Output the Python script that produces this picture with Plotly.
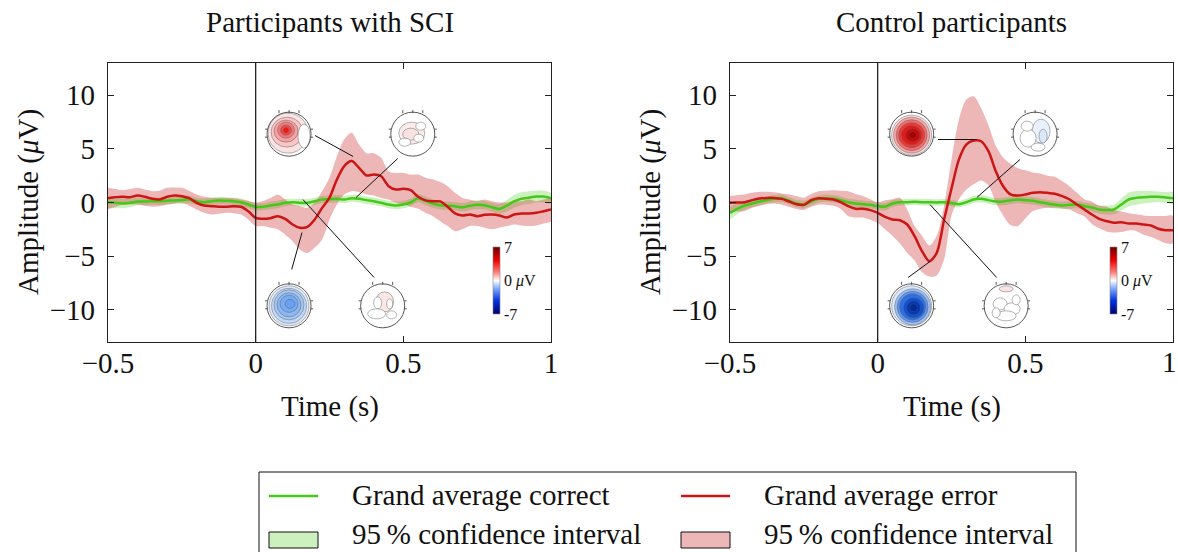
import plotly.graph_objects as go

W, H = 1178, 552

# ---------------- data ----------------
time_s = [round(-0.5 + 0.025 * i, 3) for i in range(61)]

sci_error = [0.40, 0.50, 0.53, 0.50, 0.65, 0.53, 0.34, 0.28, 0.53, 0.65,
             0.59, 0.40, -0.03, -0.28, -0.34, -0.40, -0.40, -0.34, -0.40, -0.81,
             -1.43, -1.52, -1.46, -1.27, -1.52, -2.05, -2.36, -2.27, -1.58, -0.50,
             0.45, 2.14, 3.39, 3.86, 3.23, 2.52, 2.61, 2.45, 1.52, 1.21,
             1.27, 1.15, 0.53, 0.20, 0.12, 0.10, -0.40, -1.02, -1.21, -1.12,
             -1.27, -1.15, -1.12, -1.21, -1.40, -1.12, -1.02, -1.02, -0.96, -0.81,
             -0.65]
sci_error_hi = [1.37, 1.25, 1.15, 1.25, 1.37, 1.20, 1.06, 1.10, 1.37, 1.40,
                1.37, 1.10, 0.75, 0.55, 0.43, 0.43, 0.43, 0.40, 0.28, 0.15,
                0.00, 0.15, 0.43, 0.75, 0.28, -0.19, -0.34, -0.50, 0.00, 1.06,
                2.30, 4.30, 5.90, 6.50, 5.40, 4.60, 4.60, 4.16, 2.90, 2.76,
                2.76, 2.60, 2.60, 2.30, 2.14, 1.90, 1.52, 0.90, 0.43, 0.28,
                0.12, 0.28, 0.12, 0.00, 0.00, 0.12, 0.12, 0.28, 0.12, 0.28,
                0.43]
sci_error_lo = [-0.65, -0.40, -0.19, -0.19, -0.19, -0.30, -0.40, -0.35, -0.19, -0.10,
                -0.03, -0.30, -0.65, -0.95, -1.12, -1.05, -0.96, -1.00, -1.12, -1.58,
                -2.20, -2.20, -2.36, -2.50, -3.00, -3.60, -4.40, -4.70, -4.20, -3.45,
                -1.58, -0.19, 0.75, 1.06, 0.96, 0.75, 0.65, 0.43, 0.28, -0.03,
                -0.19, -0.40, -0.59, -0.96, -1.27, -1.74, -2.20, -2.67, -2.50, -2.20,
                -2.20, -2.36, -2.50, -2.36, -2.20, -2.05, -2.14, -2.20, -2.14, -1.95,
                -1.74]
sci_correct = [0.03, -0.03, -0.09, -0.03, 0.09, 0.09, 0.12, 0.12, 0.16, 0.19,
               0.22, 0.28, 0.12, 0.03, 0.12, 0.19, 0.16, 0.12, 0.03, -0.19,
               -0.40, -0.40, -0.28, -0.19, -0.03, 0.03, -0.03, -0.03, 0.12, 0.28,
               0.30, 0.34, 0.28, 0.40, 0.34, 0.22, 0.12, -0.03, -0.19, -0.28,
               -0.19, 0.00, 0.40, 0.15, -0.10, -0.25, -0.30, -0.35, -0.45, -0.30,
               -0.20, -0.25, -0.45, -0.60, -0.30, 0.10, 0.35, 0.45, 0.55, 0.55,
               0.40]
sci_correct_ci = [0.55, 0.50, 0.45, 0.40, 0.35, 0.35, 0.33, 0.35, 0.35, 0.32,
                  0.35, 0.35, 0.33, 0.35, 0.35, 0.35, 0.32, 0.35, 0.35, 0.35,
                  0.35, 0.33, 0.35, 0.35, 0.35, 0.32, 0.35, 0.35, 0.35, 0.33,
                  0.35, 0.35, 0.35, 0.32, 0.35, 0.35, 0.35, 0.33, 0.35, 0.35,
                  0.35, 0.35, 0.38, 0.40, 0.40, 0.40, 0.38, 0.40, 0.40, 0.40,
                  0.40, 0.40, 0.42, 0.45, 0.55, 0.60, 0.60, 0.60, 0.55, 0.55,
                  0.50]

ctl_error = [-0.03, 0.00, 0.03, 0.22, 0.37, 0.43, 0.43, 0.34, 0.09, -0.16,
             -0.22, 0.22, 0.40, 0.34, 0.28, 0.03, -0.34, -0.59, -0.59, -0.71,
             -0.96, -1.34, -1.58, -1.65, -2.05, -3.14, -4.53, -5.47, -4.69, -1.58,
             1.30, 4.00, 5.40, 5.78, 5.71, 4.78, 2.92, 1.52, 0.75, 0.65,
             0.75, 0.90, 0.96, 0.90, 0.81, 0.59, 0.28, -0.19, -0.65, -1.12,
             -1.52, -1.74, -1.89, -1.83, -1.96, -1.96, -2.05, -2.14, -2.45, -2.58,
             -2.58]
ctl_error_hi = [0.60, 0.70, 0.75, 0.90, 1.00, 1.00, 0.95, 0.85, 0.75, 0.60,
                0.45, 0.80, 1.05, 1.10, 1.15, 1.10, 1.05, 0.80, 0.60, 0.30,
                0.00, 0.20, 0.30, 0.45, -0.65, -2.20, -3.10, -4.00, -3.10, -0.30,
                4.00, 7.70, 9.60, 9.90, 8.80, 7.20, 5.30, 4.20, 3.60, 3.20,
                3.00, 2.80, 2.70, 2.50, 2.40, 2.00, 1.50, 0.90, 0.30, 0.10,
                -0.30, -0.40, -0.70, -0.85, -1.00, -1.10, -1.20, -1.25, -1.25, -1.25,
                -1.25]
ctl_error_lo = [-0.80, -0.85, -0.80, -0.50, -0.30, -0.15, -0.10, -0.20, -0.40, -0.60,
                -0.70, -0.40, -0.20, -0.20, -0.30, -0.60, -1.25, -1.40, -1.40, -1.60,
                -1.90, -2.50, -3.10, -3.80, -4.70, -5.40, -6.50, -6.90, -6.80, -5.30,
                -1.20, 0.30, 1.20, 1.70, 2.05, 1.60, 0.00, -1.20, -2.10, -2.20,
                -1.50, -0.80, -0.60, -0.50, -0.50, -0.55, -0.65, -1.00, -1.30, -2.00,
                -2.40, -2.70, -2.80, -2.75, -2.60, -2.65, -3.00, -3.20, -3.50, -3.80,
                -3.80]
ctl_correct = [-0.96, -0.59, -0.28, -0.09, 0.09, 0.22, 0.34, 0.40, 0.16, -0.09,
               -0.19, 0.09, 0.34, 0.40, 0.34, 0.22, 0.03, -0.09, -0.16, -0.22,
               -0.34, -0.40, -0.09, 0.03, 0.03, 0.06, 0.03, 0.03, 0.00, 0.03,
               -0.05, -0.16, 0.03, 0.28, 0.34, 0.22, 0.09, 0.09, 0.22, 0.28,
               0.22, 0.16, 0.03, -0.09, -0.22, -0.28, -0.22, -0.19, -0.34, -0.47,
               -0.65, -0.71, -0.65, -0.19, 0.28, 0.43, 0.50, 0.53, 0.53, 0.47,
               0.40]
ctl_correct_ci = [0.60, 0.50, 0.40, 0.35, 0.35, 0.33, 0.35, 0.35, 0.32, 0.35,
                  0.35, 0.35, 0.33, 0.35, 0.35, 0.35, 0.32, 0.35, 0.35, 0.35,
                  0.33, 0.35, 0.32, 0.30, 0.30, 0.30, 0.30, 0.30, 0.30, 0.30,
                  0.30, 0.30, 0.32, 0.33, 0.35, 0.35, 0.33, 0.35, 0.35, 0.35,
                  0.35, 0.35, 0.35, 0.35, 0.35, 0.35, 0.35, 0.35, 0.35, 0.38,
                  0.40, 0.42, 0.45, 0.55, 0.65, 0.65, 0.60, 0.55, 0.50, 0.50,
                  0.55]

panel_titles = ["Participants with SCI", "Control participants"]
x_tickvals = [-0.5, 0, 0.5, 1]
x_ticktext = ["\u22120.5", "0", "0.5", "1"]
y_tickvals = [-10, -5, 0, 5, 10]
y_ticktext = ["\u221210", "\u22125", "0", "5", "10"]
x_title = "Time (s)"
y_title = "Amplitude (<i>\u03bc</i>V)"
legend_labels = ["Grand average correct", "Grand average error",
                 "95\u2009% confidence interval", "95\u2009% confidence interval"]
cbar_ticks = [-7, 0, 7]
cbar_text = ["-7", "0 <i>\u03bc</i>V", "7"]

# ---------------- style ----------------
FONT = "Liberation Serif"
FS = 29
GREEN = "#44c81a"
RED = "#cc1515"
GREEN_FILL = "rgba(68,204,17,0.27)"
RED_FILL = "rgba(200,30,30,0.32)"
CSCALE = [[0.0, "#00006e"], [0.2, "#0033dd"], [0.38, "#7fa8ff"], [0.5, "#ffffff"],
          [0.62, "#ff8080"], [0.8, "#ee0000"], [1.0, "#6e0000"]]


def px(v):
    return v / W


def py(v):
    return 1 - v / H


panels = [
    dict(xa="x", ya="y", dom=[px(108), px(551)], err=sci_error, hi=sci_error_hi,
         lo=sci_error_lo, cor=sci_correct, ci=sci_correct_ci, cx=330, ylab=28, cbx=493),
    dict(xa="x2", ya="y2", dom=[px(730), px(1173)], err=ctl_error, hi=ctl_error_hi,
         lo=ctl_error_lo, cor=ctl_correct, ci=ctl_correct_ci, cx=951.5, ylab=650, cbx=1110),
]

fig = go.Figure()
shapes = []
annotations = []

for k, p in enumerate(panels):
    up_g = [c + h for c, h in zip(p["cor"], p["ci"])]
    lo_g = [c - h for c, h in zip(p["cor"], p["ci"])]
    fig.add_trace(go.Scatter(x=time_s + time_s[::-1], y=up_g + lo_g[::-1], fill="toself",
                             fillcolor=GREEN_FILL, line=dict(width=0, shape="spline", smoothing=0.8),
                             mode="lines", xaxis=p["xa"], yaxis=p["ya"], showlegend=False,
                             hoverinfo="skip"))
    fig.add_trace(go.Scatter(x=time_s + time_s[::-1], y=p["hi"] + p["lo"][::-1], fill="toself",
                             fillcolor=RED_FILL, line=dict(width=0, shape="spline", smoothing=0.8),
                             mode="lines", xaxis=p["xa"], yaxis=p["ya"], showlegend=False,
                             hoverinfo="skip"))
    fig.add_trace(go.Scatter(x=time_s, y=p["cor"], mode="lines",
                             line=dict(color=GREEN, width=2.5, shape="spline", smoothing=0.8),
                             xaxis=p["xa"], yaxis=p["ya"], showlegend=False))
    fig.add_trace(go.Scatter(x=time_s, y=p["err"], mode="lines",
                             line=dict(color=RED, width=2.5, shape="spline", smoothing=0.8),
                             xaxis=p["xa"], yaxis=p["ya"], showlegend=False))
    # colour bar for the topographic maps
    fig.add_trace(go.Scatter(
        x=[None], y=[None], mode="markers", xaxis=p["xa"], yaxis=p["ya"], showlegend=False,
        marker=dict(color=[0], cmin=-7, cmax=7, colorscale=CSCALE, showscale=True,
                    colorbar=dict(x=px(p["cbx"]), xanchor="left", y=py(280.5), yanchor="middle",
                                  len=67, lenmode="pixels", thickness=7, thicknessmode="pixels",
                                  outlinewidth=0.6, outlinecolor="#888", tickvals=cbar_ticks,
                                  ticktext=cbar_text, ticks="", xpad=0, ypad=0,
                                  tickfont=dict(family=FONT, size=16, color="#111")))))
    # stimulus onset line
    shapes.append(dict(type="line", xref=p["xa"], yref=p["ya"] + " domain", x0=0, x1=0, y0=0, y1=1,
                       line=dict(color="#222", width=1.3), layer="above"))
    # titles
    annotations.append(dict(text=panel_titles[k], x=px(p["cx"]), y=py(22), xref="paper", yref="paper",
                            xanchor="center", yanchor="middle", showarrow=False,
                            font=dict(family=FONT, size=FS, color="#111")))
    annotations.append(dict(text=x_title, x=px(p["cx"]), y=py(406), xref="paper", yref="paper",
                            xanchor="center", yanchor="middle", showarrow=False,
                            font=dict(family=FONT, size=FS, color="#111")))
    annotations.append(dict(text=y_title, x=px(p["ylab"]), y=py(202), xref="paper", yref="paper",
                            xanchor="center", yanchor="middle", showarrow=False, textangle=-90,
                            font=dict(family=FONT, size=FS, color="#111")))

# the right panel's last tick label sits on the page edge: place it inside the page
annotations.append(dict(text=x_ticktext[-1], x=1.0, y=py(362), xref="paper", yref="paper",
                        xanchor="right", yanchor="middle", showarrow=False, borderpad=0,
                        font=dict(family=FONT, size=FS, color="#111")))


# ---------------- topographic maps (decorative) ----------------
def topo(xr, yr, cx, cy, rings):
    out = []
    base = dict(type="circle", xref=xr, yref=yr, xsizemode="pixel", ysizemode="pixel",
                xanchor=cx, yanchor=cy, layer="above")
    out.append(dict(base, x0=-22, x1=22, y0=-22, y1=22, fillcolor="white",
                    line=dict(width=0)))
    for dx, dy, rx, ry, fill in rings:
        out.append(dict(base, x0=dx - rx, x1=dx + rx, y0=dy - ry, y1=dy + ry, fillcolor=fill,
                        line=dict(color="rgba(90,90,90,0.75)", width=0.6)))
    out.append(dict(base, x0=-22, x1=22, y0=-22, y1=22, fillcolor="rgba(0,0,0,0)",
                    line=dict(color="#444", width=0.9)))
    lb = dict(type="line", xref=xr, yref=yr, xsizemode="pixel", ysizemode="pixel",
              xanchor=cx, yanchor=cy, layer="above", line=dict(color="#444", width=0.9))
    for mx in (-10, 0, 10):
        out.append(dict(lb, x0=mx, x1=mx, y0=21, y1=24))
    for s in (-1, 1):
        for my in (5, -3):
            out.append(dict(lb, x0=s * 21.5, x1=s * 24, y0=my, y1=my))
    return out


pos_weak = [(-1, 1, 20, 20, "#fbe3e3"), (-2, 2, 16, 15, "#f8c6c6"), (-3, 3, 12, 11, "#f5a2a2"),
            (-3, 4, 8.5, 8, "#f27a7a"), (-3, 4, 5.5, 5, "#f04848"), (-3, 4, 2.5, 2.5, "#ff1010"),
            (15, -2, 6, 12, "#ffffff")]
pos_strong = [(0, -1, 20, 20, "#fbe0e0"), (0, -1, 18, 18, "#f5a8a8"), (0, -1, 15.5, 15.5, "#f07070"),
              (0, -1, 13, 12.5, "#ec3a3a"), (0, -1, 10, 9.5, "#e41a1a"), (1, -1, 7, 6.5, "#cc0606"),
              (1, -1, 4, 3.5, "#aa0000")]
neg_weak = [(0, 0, 20, 20, "#dfeafb"), (0, 0, 17.5, 17.5, "#c2d8f7"), (0, 1, 15, 15, "#a6c8f4"),
            (0, 1, 12, 12, "#8cb8f3"), (0, 2, 9, 8.5, "#78abf2"), (1, 2, 5, 4.5, "#69a2f3")]
neg_strong = [(0, 0, 20, 20, "#dde9fb"), (1, -1, 18, 18, "#9cc0f4"), (1, -1, 15.5, 15.5, "#5f96ee"),
              (1, -1, 13, 13, "#2f6fe6"), (2, -2, 10, 10, "#0e50d6"), (2, -2, 7, 7, "#0038b8"),
              (2, -2, 4, 4, "#002a98")]
flat_a = [(-1, 1, 13, 11, "#fcecec"), (-2, 0, 8, 6, "#fae2e2"), (6, -4, 5, 4, "#ffffff"),
          (-8, -8, 6, 4, "#ffffff"), (8, 8, 5, 4, "#ffffff")]
flat_b = [(2, 4, 9, 10, "#fbe6e6"), (-5, 3, 4, 6, "#ffffff"), (7, 2, 3, 5, "#ffffff"),
          (-6, -8, 9, 5, "#ffffff"), (9, -9, 5, 4, "#ffffff")]
flat_c = [(6, 3, 9, 12, "#e8f1fc"), (8, -2, 4, 7, "#dbe8fa"), (-7, -4, 8, 9, "#ffffff"),
          (-8, 8, 6, 5, "#ffffff"), (3, -13, 7, 4, "#ffffff")]
flat_d = [(0, 17, 7, 3, "#fbe3e3"), (-6, 2, 7, 6, "#ffffff"), (6, -3, 8, 6, "#ffffff"),
          (0, -10, 10, 5, "#ffffff"), (-10, -7, 4, 5, "#ffffff"), (10, 6, 4, 5, "#ffffff")]

topo_specs = [
    ("x", "y", 0.113, 6.37, pos_weak), ("x", "y", 0.532, 6.37, flat_a),
    ("x", "y", 0.113, -9.63, neg_weak), ("x", "y", 0.430, -9.63, flat_b),
    ("x2", "y2", 0.115, 6.37, pos_strong), ("x2", "y2", 0.533, 6.37, flat_c),
    ("x2", "y2", 0.115, -9.63, neg_strong), ("x2", "y2", 0.435, -9.63, flat_d),
]
for spec in topo_specs:
    shapes += topo(*spec)

connectors = [
    ("x", "y", 0.201, 6.24, 0.330, 4.29), ("x", "y", 0.481, 4.10, 0.340, 0.47),
    ("x", "y", 0.122, -6.24, 0.157, -2.80), ("x", "y", 0.401, -6.99, 0.160, 0.28),
    ("x2", "y2", 0.204, 5.87, 0.335, 5.87), ("x2", "y2", 0.482, 4.01, 0.336, 0.47),
    ("x2", "y2", 0.103, -6.99, 0.177, -5.50), ("x2", "y2", 0.403, -6.99, 0.177, -0.19),
]
for xr, yr, x0, y0, x1, y1 in connectors:
    shapes.append(dict(type="line", xref=xr, yref=yr, x0=x0, y0=y0, x1=x1, y1=y1,
                       line=dict(color="#111", width=1), layer="above"))

# ---------------- manual legend ----------------
shapes.append(dict(type="rect", xref="paper", yref="paper", x0=px(259), x1=px(1076),
                   y0=py(472), y1=py(575), line=dict(color="#111", width=1), fillcolor="white"))
for lx, col, fill, lab_top, lab_bot in [(269, GREEN, GREEN_FILL, legend_labels[0], legend_labels[2]),
                                        (681, RED, RED_FILL, legend_labels[1], legend_labels[3])]:
    shapes.append(dict(type="line", xref="paper", yref="paper", x0=px(lx), x1=px(lx + 49),
                       y0=py(496), y1=py(496), line=dict(color=col, width=2.5)))
    shapes.append(dict(type="rect", xref="paper", yref="paper", x0=px(lx), x1=px(lx + 49),
                       y0=py(532), y1=py(548), line=dict(color="#111", width=1), fillcolor=fill))
    annotations.append(dict(text=lab_top, x=px(lx + 81), y=py(495), xref="paper", yref="paper",
                            xanchor="left", yanchor="middle", showarrow=False,
                            font=dict(family=FONT, size=FS, color="#111")))
    annotations.append(dict(text=lab_bot, x=px(lx + 81), y=py(552), xref="paper", yref="paper",
                            xanchor="left", yanchor="bottom", showarrow=False,
                            font=dict(family=FONT, size=FS, color="#111")))

# ---------------- axes ----------------
axis_common = dict(showgrid=False, zeroline=False, showline=True, linecolor="#222", linewidth=1.2,
                   mirror="ticks", ticks="inside", ticklen=6, tickcolor="#222", tickwidth=1,
                   automargin=False, tickfont=dict(family=FONT, size=FS, color="#111"))
layout_axes = {}
for k, p in enumerate(panels):
    sfx = "" if k == 0 else "2"
    ttext = x_ticktext if k == 0 else x_ticktext[:-1] + [""]
    layout_axes["xaxis" + sfx] = dict(axis_common, domain=p["dom"], range=[-0.5, 1.0],
                                      tickvals=x_tickvals, ticktext=ttext, anchor="y" + sfx,
                                      ticklabelstandoff=-5, ticklabeloverflow="allow")
    layout_axes["yaxis" + sfx] = dict(axis_common, domain=[py(342), py(63)], range=[-13, 13],
                                      tickvals=y_tickvals, ticktext=y_ticktext, anchor="x" + sfx,
                                      ticklabelstandoff=6)

fig.update_layout(width=W, height=H, margin=dict(l=0, r=0, t=0, b=0, autoexpand=False),
                  paper_bgcolor="white", plot_bgcolor="white", showlegend=False,
                  shapes=shapes, annotations=annotations, **layout_axes)

fig.write_html("out.html")
